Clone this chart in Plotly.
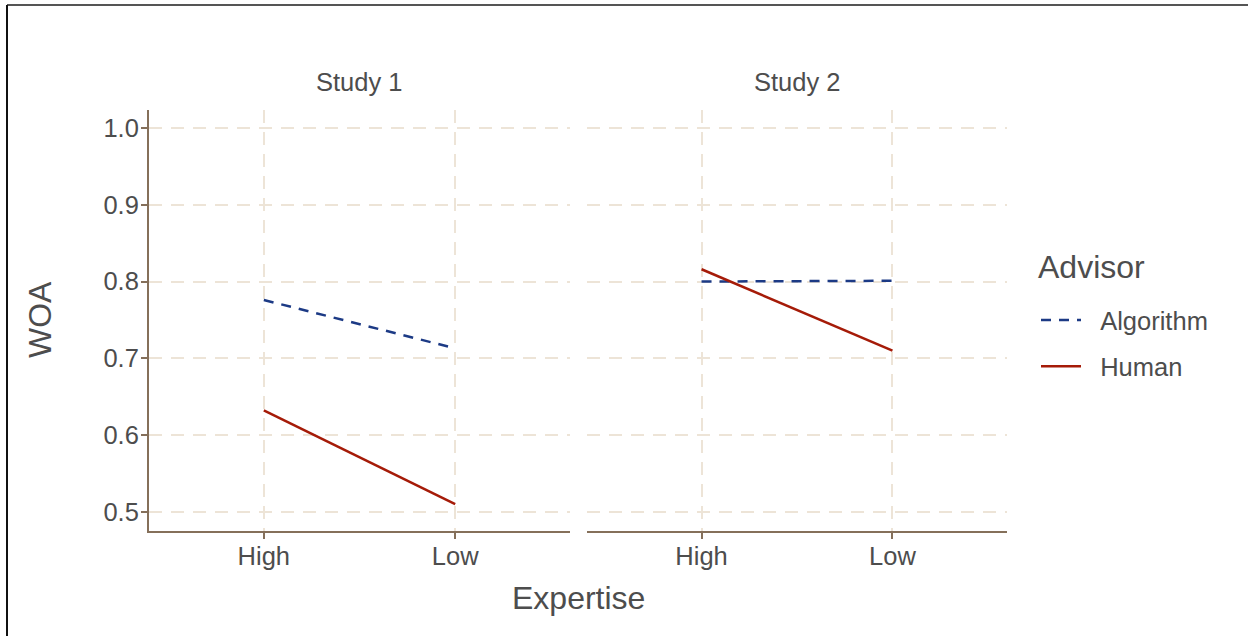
import plotly.graph_objects as go

# ---- data ----
expertise = ["High", "Low"]
studies = ["Study 1", "Study 2"]
advisors = ["Algorithm", "Human"]
algorithm_s1 = [0.776, 0.713]
human_s1 = [0.632, 0.510]
algorithm_s2 = [0.800, 0.801]
human_s2 = [0.816, 0.710]
y_ticks = [0.5, 0.6, 0.7, 0.8, 0.9, 1.0]

W, H = 1248, 636
ALG_COLOR = "#1c3a85"
HUM_COLOR = "#a51b08"
AXIS_COLOR = "#85705a"
GRID_COLOR = "#ede4d7"
TEXT_COLOR = "#4d4d4d"
FONT = "Liberation Sans, Arial, sans-serif"
TICK_SIZE = 25.5
TITLE_SIZE = 32
PAD = "\u00a0\u00a0"

def px_x(p):
    return p / W

def px_y(p):
    return (H - p) / H

fig = go.Figure()

for i, (alg, hum) in enumerate([(algorithm_s1, human_s1), (algorithm_s2, human_s2)]):
    xa = "x" if i == 0 else "x2"
    ya = "y" if i == 0 else "y2"
    fig.add_trace(go.Scatter(
        x=expertise, y=alg, mode="lines", name=PAD + advisors[0],
        line=dict(color=ALG_COLOR, width=2.5, dash="10px,8px"),
        xaxis=xa, yaxis=ya, legendgroup="alg", showlegend=(i == 0)))
    fig.add_trace(go.Scatter(
        x=expertise, y=hum, mode="lines", name=PAD + advisors[1],
        line=dict(color=HUM_COLOR, width=2.5),
        xaxis=xa, yaxis=ya, legendgroup="hum", showlegend=(i == 0)))

ydom = [px_y(531), px_y(110)]
yrange = [0.475, 1.0235]
common_x = dict(
    type="category", categoryorder="array", categoryarray=expertise,
    range=[-0.6, 1.6], showgrid=True, gridcolor=GRID_COLOR, gridwidth=2,
    griddash="13px,9px", showline=True, linecolor=AXIS_COLOR, linewidth=2,
    ticks="outside", ticklen=6, tickwidth=2, tickcolor=AXIS_COLOR,
    ticklabelstandoff=-5,
    tickfont=dict(size=TICK_SIZE, color=TEXT_COLOR, family=FONT), zeroline=False,
)
fig.update_layout(
    xaxis=dict(domain=[px_x(149), px_x(570)], anchor="y", **common_x),
    xaxis2=dict(domain=[px_x(587), px_x(1007)], anchor="y2", **common_x),
    yaxis=dict(domain=ydom, range=yrange, tickvals=y_ticks,
               ticktext=[f"{v:.1f}" for v in y_ticks],
               showgrid=True, gridcolor=GRID_COLOR, gridwidth=2, griddash="13px,9px",
               showline=True, linecolor=AXIS_COLOR, linewidth=2,
               ticks="outside", ticklen=6, tickwidth=2, tickcolor=AXIS_COLOR,
               ticklabelstandoff=-3,
               tickfont=dict(size=TICK_SIZE, color=TEXT_COLOR, family=FONT),
               zeroline=False, anchor="x"),
    yaxis2=dict(domain=ydom, range=yrange, tickvals=y_ticks, showticklabels=False,
                showgrid=True, gridcolor=GRID_COLOR, gridwidth=2, griddash="13px,9px",
                showline=False, ticks="", zeroline=False, anchor="x2", matches="y"),
)

annotations = [
    dict(text=studies[0], x=(px_x(149) + px_x(570)) / 2, y=px_y(82), xref="paper", yref="paper",
         showarrow=False, font=dict(size=TICK_SIZE, color=TEXT_COLOR, family=FONT), xanchor="center", yanchor="middle"),
    dict(text=studies[1], x=(px_x(587) + px_x(1007)) / 2, y=px_y(82), xref="paper", yref="paper",
         showarrow=False, font=dict(size=TICK_SIZE, color=TEXT_COLOR, family=FONT), xanchor="center", yanchor="middle"),
    dict(text="Expertise", x=px_x(578), y=px_y(598), xref="paper", yref="paper",
         showarrow=False, font=dict(size=TITLE_SIZE, color=TEXT_COLOR, family=FONT), xanchor="center", yanchor="middle"),
    dict(text="WOA", x=px_x(40), y=px_y(320), xref="paper", yref="paper", textangle=-90,
         showarrow=False, font=dict(size=TITLE_SIZE, color=TEXT_COLOR, family=FONT), xanchor="center", yanchor="middle"),
    dict(text="Advisor", x=px_x(1036), y=px_y(267), xref="paper", yref="paper",
         showarrow=False, font=dict(size=TITLE_SIZE, color=TEXT_COLOR, family=FONT), xanchor="left", yanchor="middle"),
]

shapes = [
    dict(type="line", xref="paper", yref="paper", x0=px_x(7), x1=1, y0=px_y(5), y1=px_y(5),
         line=dict(color="#555555", width=2)),
    dict(type="line", xref="paper", yref="paper", x0=px_x(7), x1=px_x(7), y0=0, y1=px_y(5),
         line=dict(color="#111111", width=2)),
]

fig.update_layout(
    width=W, height=H,
    margin=dict(l=0, r=0, t=0, b=0),
    paper_bgcolor="white", plot_bgcolor="white",
    font=dict(family=FONT, color=TEXT_COLOR),
    annotations=annotations, shapes=shapes,
    legend=dict(
        font=dict(size=TICK_SIZE, color=TEXT_COLOR, family=FONT),
        x=px_x(1036), y=px_y(297), xanchor="left", yanchor="top",
        itemwidth=40, tracegroupgap=10, bgcolor="rgba(0,0,0,0)",
    ),
)

fig.write_html("out.html", config={"displayModeBar": False},
               post_script="document.body.style.margin='0px';")
